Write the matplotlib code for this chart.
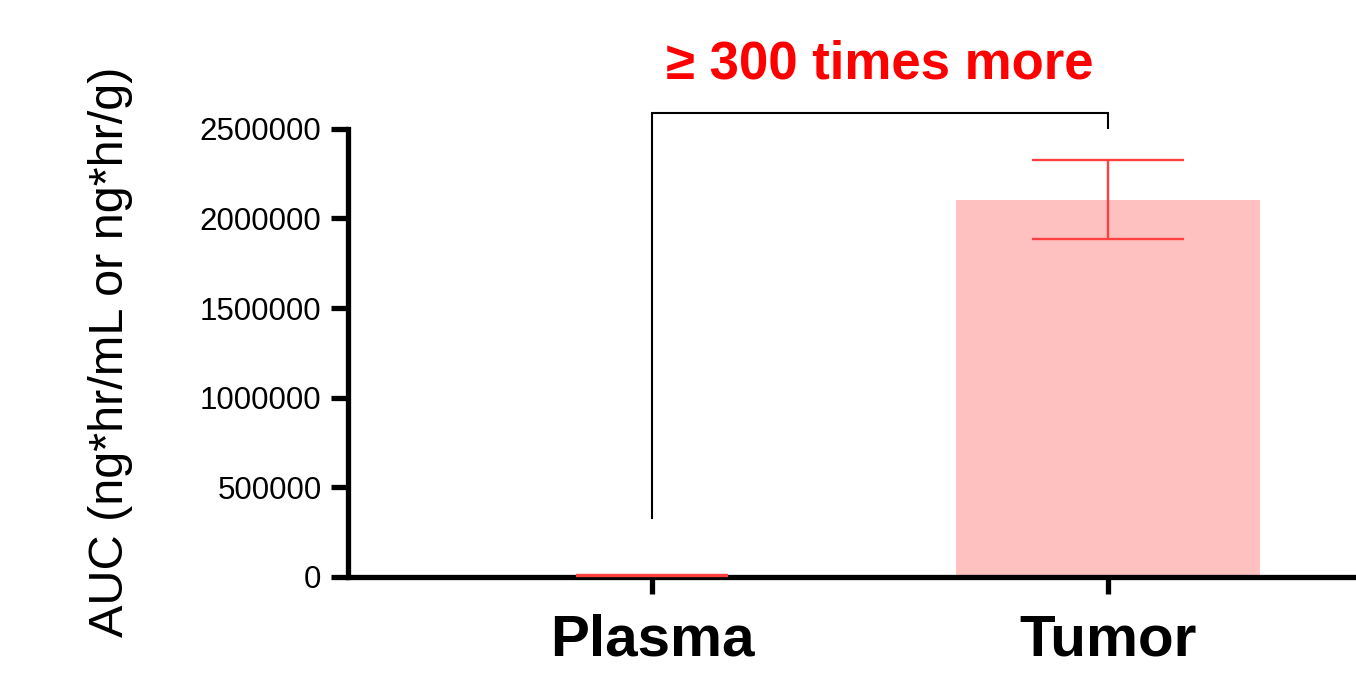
import numpy as np
import matplotlib
matplotlib.use("Agg")
import matplotlib.pyplot as plt

plt.rcParams['font.family'] = ['Liberation Sans', 'DejaVu Sans']

# data
groups = ['Plasma', 'Tumor']
auc_mean = [7000, 2105000]
auc_err = [1500, 220000]
y_ticks = [0, 500000, 1000000, 1500000, 2000000, 2500000]
note = '\u2265 300 times more'

bar_color = '#ffc0c0'
err_color = '#ff4040'

fig = plt.figure(figsize=(13.56, 6.78), dpi=100)
ax = fig.add_axes([0.2566, 0.149, 0.7434, 0.661])

x = np.arange(len(groups))
ax.bar(x, auc_mean, width=0.667, color=bar_color, zorder=1)
# error bars drawn over the spines so the plasma cap stays visible
ax.errorbar(x, auc_mean, yerr=auc_err, fmt='none', ecolor=err_color,
            elinewidth=1.7, capsize=55, capthick=1.7, zorder=4, clip_on=False)

ax.set_xlim(-0.667, 1.544)
ax.set_ylim(0, 2500000)
ax.set_yticks(y_ticks)
ax.set_yticklabels([str(v) for v in y_ticks], fontsize=22.5)
ax.set_xticks(x)
ax.set_xticklabels(groups, fontsize=42, fontweight='bold')

for s in ['top', 'right']:
    ax.spines[s].set_visible(False)
for s in ['left', 'bottom']:
    ax.spines[s].set_linewidth(3.8)
    ax.spines[s].set_zorder(3)
ax.tick_params(axis='y', length=12, width=3.8, pad=7)
ax.tick_params(axis='x', length=12, width=3.8, pad=14)

ax.set_ylabel('AUC (ng*hr/mL or ng*hr/g)', fontsize=35)
ax.yaxis.set_label_coords(-0.213, 0.502)

# bracket between the two groups
ax.plot([0, 0, 1, 1], [329000, 2589000, 2589000, 2506000], color='black',
        lw=1.5, clip_on=False, solid_joinstyle='miter')
ax.text(0.5, 2860000, note, color='red', fontsize=38, fontweight='bold',
        ha='center', va='center', clip_on=False)

fig.savefig('out.png', dpi=100)
